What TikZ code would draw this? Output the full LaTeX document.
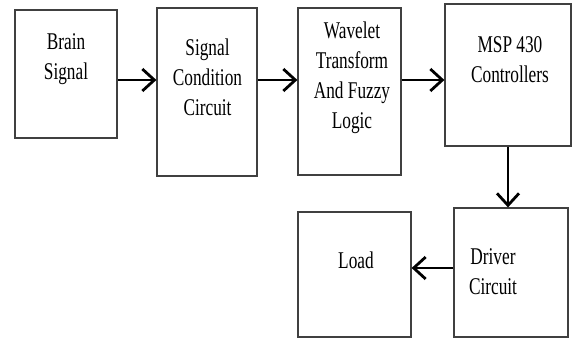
\documentclass[tikz,border=0pt]{standalone}
\usepackage{fontspec}
\setmainfont{Liberation Serif}
\newfontfamily\blockfont[FakeStretch=0.72]{Liberation Serif}
\usetikzlibrary{arrows.meta}

\tikzset{
  block/.style={draw=black!75, line width=1.2pt, fill=white, inner sep=0pt},
  blocktext/.style={align=center, inner sep=0pt, font=\blockfont\fontsize{24}{30}\selectfont},
  flow/.style={line width=2.8pt, -{Straight Barb[length=12pt,width=22pt]}}
}

\begin{document}
\begin{tikzpicture}[x=1pt,y=-1pt]
\useasboundingbox (0,0) rectangle (574,339);
% Blocks
\node[block, minimum width=102pt, minimum height=128pt] (brain) at (66,74) {};
\node[block, minimum width=100pt, minimum height=168pt] (cond) at (207,92) {};
\node[block, minimum width=103pt, minimum height=167pt] (wave) at (349.5,91.5) {};
\node[block, minimum width=126pt, minimum height=142pt] (msp) at (508,75) {};
\node[block, minimum width=113pt, minimum height=125pt] (load) at (354.5,274.5) {};
\node[block, minimum width=114pt, minimum height=129pt] (driver) at (511,272.5) {};
% Labels
\node[blocktext] at (66,59) {Brain\\Signal};
\node[blocktext] at (207.5,77) {Signal\\Condition\\Circuit};
\node[blocktext] at (352,77.5) {Wavelet\\Transform\\And Fuzzy\\Logic};
\node[blocktext] at (510,60) {MSP 430\\Controllers};
\node[blocktext] at (356,260) {Load};
\node[blocktext] at (493,272) {Driver\\Circuit};
% Arrows
\coordinate (row) at (0,80);
\coordinate (low) at (0,268);
\draw[flow] (brain.east |- row) -- (cond.west |- row);
\draw[flow] (cond.east |- row) -- (wave.west |- row);
\draw[flow] (wave.east |- row) -- (msp.west |- row);
\draw[flow] (msp.south) -- (msp.south |- driver.north);
\draw[flow] (driver.west |- low) -- (load.east |- low);
\end{tikzpicture}
\end{document}
